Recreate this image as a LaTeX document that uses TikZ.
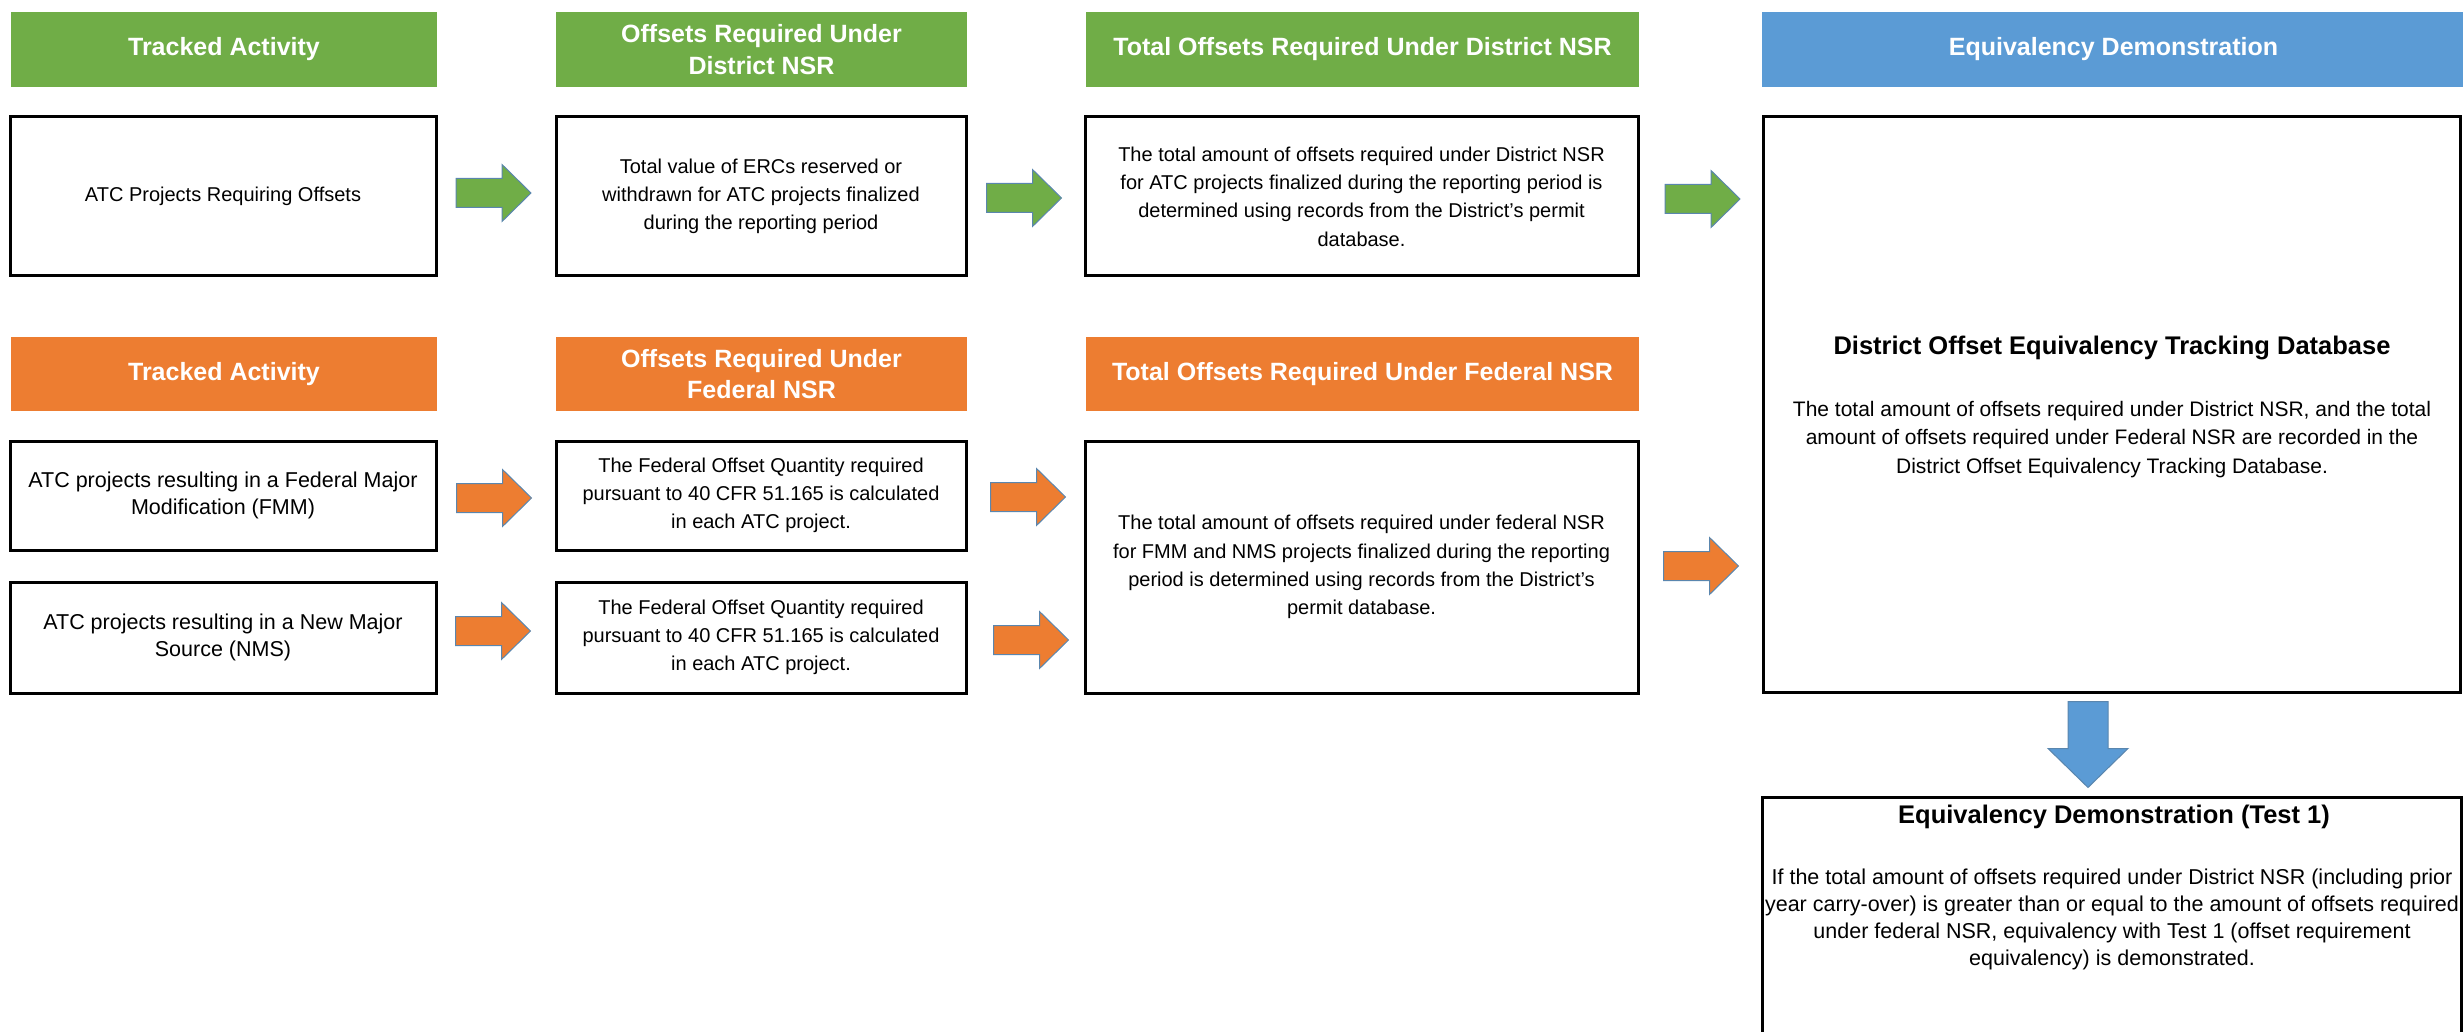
\documentclass[tikz,border=0pt]{standalone}
\usepackage{fontspec}
\setmainfont{Liberation Sans}
\usetikzlibrary{calc}
\definecolor{hgreen}{HTML}{70AD47}
\definecolor{horange}{HTML}{ED7D31}
\definecolor{hblue}{HTML}{5B9BD5}
\definecolor{arrline}{HTML}{5A86AE}
\begin{document}
\begin{tikzpicture}[x=1pt,y=-1pt,
  hdr/.style={fill=#1, draw=none, text=white, inner sep=0pt, align=center,
    font=\fontsize{25}{31.7}\selectfont\bfseries},
  boxn/.style={draw=black, line width=3pt, fill=white, inner sep=0pt, align=center,
    font=\fontsize{20}{28.3}\selectfont},
  ttl/.style={inner sep=0pt, align=center, font=\fontsize{25.5}{30}\selectfont\bfseries},
  bodytxt/.style={inner sep=0pt, align=center, font=\fontsize{21}{28.3}\selectfont},
  pics/rarrow/.style={code={\draw[line width=1pt, draw=arrline, fill=#1]
    (-37.5,-14.5) -- (8.5,-14.5) -- (8.5,-28.5) -- (37.5,0) -- (8.5,28.5) -- (8.5,14.5) -- (-37.5,14.5) -- cycle;}},
  pics/darrow/.style={code={\draw[line width=1pt, draw=arrline, fill=#1]
    (-20,-43) -- (20,-43) -- (20,4) -- (40,4) -- (0,43) -- (-40,4) -- (-20,4) -- cycle;}}
]
\useasboundingbox (0,0) rectangle (2463,1032);
\clip (0,0) rectangle (2463,1032);

% headers row 1
\node[hdr=hgreen, minimum width=426pt, minimum height=75pt] (h1) at (224,49.5) {Tracked Activity};
\node[hdr=hgreen, minimum width=411pt, minimum height=75pt] (h2) at (761.5,49.5) {Offsets Required Under\\District NSR};
\node[hdr=hgreen, minimum width=553pt, minimum height=75pt] (h3) at (1362.5,49.5) {Total Offsets Required Under District NSR};
\node[hdr=hblue, minimum width=703pt, minimum height=75pt] (h4) at (2113.5,49.5) {Equivalency Demonstration};

% headers row 2
\node[hdr=horange, minimum width=426pt, minimum height=74pt] (h5) at (224,374) {Tracked Activity};
\node[hdr=horange, minimum width=411pt, minimum height=74pt] (h6) at (761.5,374) {Offsets Required Under\\Federal NSR};
\node[hdr=horange, minimum width=553pt, minimum height=74pt] (h7) at (1362.5,374) {Total Offsets Required Under Federal NSR};

% boxes row 1
\node[boxn, minimum width=426pt, minimum height=159pt] (b1) at (223,196.5) {ATC Projects Requiring Offsets};
\node[boxn, minimum width=410pt, minimum height=159pt] (b2) at (761,196.5) {Total value of ERCs reserved or\\withdrawn for ATC projects finalized\\during the reporting period};
\node[boxn, minimum width=553pt, minimum height=159pt] (b3) at (1361.5,196.5) {The total amount of offsets required under District NSR\\for ATC projects finalized during the reporting period is\\determined using records from the District's permit\\database.};

% big box
\node[boxn, minimum width=697pt, minimum height=575pt] (big) at (2111.5,404.5) {};
\node[ttl] (bigt) at (2112,348) {District Offset Equivalency Tracking Database};
\node[bodytxt] (bigb) at (2112,439.5) {The total amount of offsets required under District NSR, and the total\\amount of offsets required under Federal NSR are recorded in the\\District Offset Equivalency Tracking Database.};

% boxes row 2
\node[boxn, font=\fontsize{21.5}{27.6}\selectfont, minimum width=426pt, minimum height=109pt] (fmm) at (223,495.5) {ATC projects resulting in a Federal Major\\Modification (FMM)};
\node[boxn, font=\fontsize{21.5}{27.6}\selectfont, minimum width=426pt, minimum height=111pt] (nms) at (223,637.5) {ATC projects resulting in a New Major\\Source (NMS)};
\node[boxn, minimum width=410pt, minimum height=109pt] (fed1) at (761,495.5) {The Federal Offset Quantity required\\pursuant to 40 CFR 51.165 is calculated\\in each ATC project.};
\node[boxn, minimum width=410pt, minimum height=111pt] (fed2) at (761,637.5) {The Federal Offset Quantity required\\pursuant to 40 CFR 51.165 is calculated\\in each ATC project.};
\node[boxn, minimum width=553pt, minimum height=252pt] (totfed) at (1361.5,567) {The total amount of offsets required under federal NSR\\for FMM and NMS projects finalized during the reporting\\period is determined using records from the District's\\permit database.};

% test 1 box
\node[boxn, minimum width=699pt, minimum height=303pt] (test) at (2111.5,948.5) {};
\node[ttl] (testt) at (2114,816.7) {Equivalency Demonstration (Test 1)};
\node[bodytxt, font=\fontsize{21.5}{27.2}\selectfont] (testb) at (2112,919.5) {If the total amount of offsets required under District NSR (including prior\\year carry-over) is greater than or equal to the amount of offsets required\\under federal NSR, equivalency with Test 1 (offset requirement\\equivalency) is demonstrated.};

% block arrows
\pic at ($(b1.east)+(56,-3.5)$) {rarrow=hgreen};
\pic at ($(b2.east)+(56.5,1.5)$) {rarrow=hgreen};
\pic at ($(b3.east)+(63,2.5)$) {rarrow=hgreen};
\pic at ($(fmm.east)+(56.5,2.5)$) {rarrow=horange};
\pic at ($(nms.east)+(55.5,-6.5)$) {rarrow=horange};
\pic at ($(fed1.east)+(60.5,1.5)$) {rarrow=horange};
\pic at ($(fed2.east)+(63.5,2.5)$) {rarrow=horange};
\pic at ($(totfed.east)+(61.5,-1)$) {rarrow=horange};
\pic at ($(big.south)+(-23.5,51)$) {darrow=hblue};
\end{tikzpicture}
\end{document}
